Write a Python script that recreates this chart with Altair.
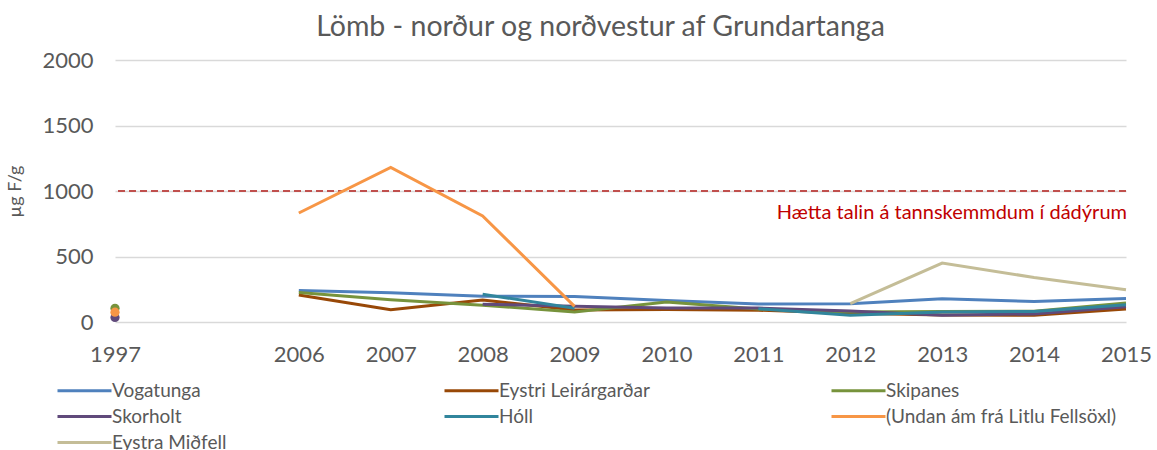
import altair as alt
import pandas as pd

# Category axis: 1997, an empty slot, then 2006-2015
categories = ["1997", "", "2006", "2007", "2008", "2009", "2010", "2011", "2012", "2013", "2014", "2015"]

series_names = [
    "Vogatunga",
    "Eystri Leirárgarðar",
    "Skipanes",
    "Skorholt",
    "Hóll",
    "(Undan ám frá Litlu Fellsöxl)",
    "Eystra Miðfell",
]
series_colors = ["#4f81bd", "#984807", "#77933c", "#604a7b", "#31859c", "#f79646", "#c4bd97"]

# Fluoride in lamb bone, µg F/g (None = no sample)
vogatunga = [None, None, 241, 224, 197, 195, 164, 137, 140, 178, 157, 180]
eystri_leirargardar = [None, None, 206, 94, 168, 92, 95, 90, 66, 53, 52, 99]
skipanes = [105, None, 226, 170, 128, 76, 153, 100, 77, 80, 83, 145]
skorholt = [35, None, None, None, 135, 121, 106, 106, 84, 52, 62, 117]
holl = [None, None, None, None, 212, 105, None, 101, 52, 77, 81, 132]
undan_am = [75, None, 832, 1180, 810, 119, None, None, None, None, None, None]
eystra_midfell = [None, None, None, None, None, None, None, None, 140, 450, 340, 247]

series_values = [vogatunga, eystri_leirargardar, skipanes, skorholt, holl, undan_am, eystra_midfell]

threshold = [1000]
threshold_label = ["Hætta talin á tannskemmdum í dádýrum"]
threshold_label_pos = [830]

y_ticks = [0, 500, 1000, 1500, 2000]

# Long table; gaps split a series into separate path segments,
# points with no neighbours are drawn as dots.
line_rows = []
dot_rows = []
for name, vals in zip(series_names, series_values):
    seg = 0
    for i, (cat, v) in enumerate(zip(categories, vals)):
        if v is None:
            seg += 1
            continue
        line_rows.append({"series": name, "year": cat, "value": v, "seg": f"{name}#{seg}", "idx": i})
        left = i > 0 and vals[i - 1] is not None
        right = i < len(vals) - 1 and vals[i + 1] is not None
        if not left and not right:
            dot_rows.append({"series": name, "year": cat, "value": v})

lines_df = pd.DataFrame(line_rows)
dots_df = pd.DataFrame(dot_rows)

FONT = "Lato"
GRAY = "#595959"

x_scale = alt.Scale(type="point", domain=categories, padding=0)
y_scale = alt.Scale(domain=[0, 2000], nice=False)
color_scale = alt.Scale(domain=series_names, range=series_colors)

x_enc = alt.X(
    "year:O",
    scale=x_scale,
    axis=alt.Axis(
        title=None, domain=False, ticks=False, labelAngle=0, labelPadding=22,
        labelFontSize=22, labelColor=GRAY, labelFont=FONT, labelOverlap=False,
        labelFlush=False,
    ),
)
y_enc = alt.Y(
    "value:Q",
    scale=y_scale,
    axis=alt.Axis(
        title="µg F/g", values=y_ticks, format="d", domain=False, ticks=False,
        labelPadding=22, labelFontSize=22, labelColor=GRAY, labelFont=FONT,
        gridColor="#d9d9d9", gridWidth=1.5,
        titleFont=FONT, titleFontSize=18, titleFontWeight="normal", titleColor=GRAY,
        titleX=-100, titleY=131, titleAngle=270, titleAlign="center",
        titleBaseline="middle",
    ),
)
color_enc = alt.Color(
    "series:N",
    scale=color_scale,
    legend=alt.Legend(
        title=None, orient="none", direction="horizontal", legendX=-41, legendY=320,
        columns=3, gridAlign="all", padding=0,
        symbolType="M-3,0H3", symbolSize=324, symbolStrokeWidth=3,
        labelFont=FONT, labelFontSize=19, labelColor=GRAY, labelLimit=500,
        labelOffset=17, columnPadding=95, rowPadding=5,
    ),
)

lines = alt.Chart(lines_df).mark_line(strokeWidth=3).encode(
    x=x_enc, y=y_enc, color=color_enc, detail="seg:N", order="idx:Q"
)

dots = alt.Chart(dots_df).mark_circle(size=85, opacity=1).encode(
    x=alt.X("year:O", scale=x_scale),
    y=alt.Y("value:Q", scale=y_scale),
    color=alt.Color("series:N", scale=color_scale, legend=None),
)

rule = alt.Chart(pd.DataFrame({"v": threshold})).mark_rule(
    color="#c0504d", strokeDash=[7, 4], strokeWidth=2
).encode(y=alt.Y("v:Q", scale=y_scale))

note = alt.Chart(pd.DataFrame({"v": threshold_label_pos, "t": threshold_label})).mark_text(
    align="right", baseline="middle", color="#c00000", font=FONT, fontSize=20
).encode(x=alt.value(1012), y=alt.Y("v:Q", scale=y_scale), text="t:N")

chart = (
    alt.layer(rule, lines, dots, note)
    .properties(
        width=1011,
        height=262,
        title=alt.Title(
            "Lömb - norður og norðvestur af Grundartanga",
            font=FONT, fontSize=28.5, fontWeight="normal", color=GRAY,
            anchor="middle", dx=-20, offset=8,
        ),
        autosize=alt.AutoSizeParams(type="none"),
        padding={"left": 115, "top": 60, "right": 31, "bottom": 128},
    )
    .configure_view(stroke=None)
)

chart.save("out.html", embed_options={"renderer": "svg", "actions": False})
